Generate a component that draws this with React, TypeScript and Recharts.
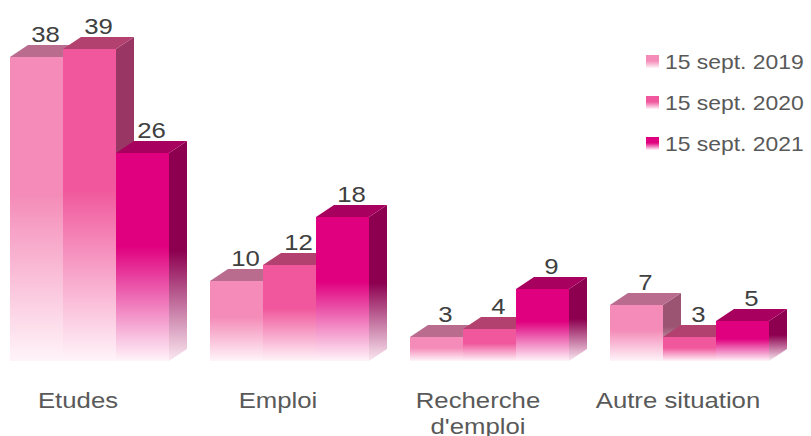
import { BarChart, Bar, XAxis, YAxis, LabelList } from "recharts"

const categoryLines = [["Etudes"], ["Emploi"], ["Recherche", "d'emploi"], ["Autre situation"]]
const categories = categoryLines.map((l) => l.join(" "))
const seriesNames = ["15 sept. 2019", "15 sept. 2020", "15 sept. 2021"]
const values2019 = [38, 10, 3, 7]
const values2020 = [39, 12, 4, 3]
const values2021 = [26, 18, 9, 5]

const PALETTE = [
  { front: "#F48BB8", top: "#B96C8E", side: "#9B5573" },
  { front: "#F0579C", top: "#B3416F", side: "#993663" },
  { front: "#E0007F", top: "#A8005E", side: "#8D0050" },
]

const DX = 18
const DY = 12
const SX = 1.17
const FONT = "'Liberation Sans', Arial, sans-serif"

const data = categories.map((name, i) => ({
  name,
  s0: values2019[i],
  s1: values2020[i],
  s2: values2021[i],
}))

function Box3D(props: any) {
  const { x, y, width, height, idx } = props
  if (height == null || width == null) return null
  const b = y + height
  const c = PALETTE[idx]
  return (
    <g>
      <rect x={x} y={y} width={width} height={height} fill={`url(#front-${idx})`} />
      <polygon
        points={`${x + width},${y} ${x + width + DX},${y - DY} ${x + width + DX},${b - DY} ${x + width},${b}`}
        fill={`url(#side-${idx})`}
      />
      <polygon
        points={`${x},${y} ${x + DX},${y - DY} ${x + width + DX},${y - DY} ${x + width},${y}`}
        fill={c.top}
      />
    </g>
  )
}

function ValueLabel(props: any) {
  const { x, y, width, value } = props
  return (
    <text
      transform={`translate(${x + width / 2 + DX / 2},${y - 15}) scale(${SX},1)`}
      textAnchor="middle"
      fontFamily={FONT}
      fontSize={22}
      fill="#404040"
    >
      {value}
    </text>
  )
}

function CatTick(props: any) {
  const { x, y, payload } = props
  const lines = categoryLines[payload.index] ?? [payload.value]
  return (
    <g>
      {lines.map((line, k) => (
        <text
          key={k}
          transform={`translate(${x - 12},${y + 47 + k * 26}) scale(${SX},1)`}
          textAnchor="middle"
          fontFamily={FONT}
          fontSize={22}
          fill="#595959"
        >
          {line}
        </text>
      ))}
    </g>
  )
}

export default function App() {
  return (
    <div style={{ position: "absolute", left: -10, top: 0, width: 821, height: 436, background: "#fff" }}>
      <BarChart
        width={821}
        height={436}
        data={data}
        margin={{ top: 41, right: 21, left: 0, bottom: 45 }}
        barCategoryGap={20}
        barGap={0}
      >
        <defs>
          {PALETTE.map((c, i) => (
            <linearGradient key={`f${i}`} id={`front-${i}`} x1="0" y1="0" x2="0" y2="1">
              <stop offset="0" stopColor={c.front} />
              <stop offset="0.45" stopColor={c.front} />
              <stop offset="1" stopColor="#fff4f9" />
            </linearGradient>
          ))}
          {PALETTE.map((c, i) => (
            <linearGradient key={`s${i}`} id={`side-${i}`} x1="0" y1="0" x2="0" y2="1">
              <stop offset="0" stopColor={c.side} />
              <stop offset="0.5" stopColor={c.side} />
              <stop offset="1" stopColor="#fbe8f1" />
            </linearGradient>
          ))}
        </defs>
        <XAxis
          dataKey="name"
          axisLine={false}
          tickLine={false}
          tickSize={0}
          tickMargin={0}
          height={30}
          interval={0}
          tick={<CatTick />}
        />
        <YAxis hide domain={[0, 40]} />
        {["s0", "s1", "s2"].map((key, i) => (
          <Bar
            key={key}
            dataKey={key}
            name={seriesNames[i]}
            isAnimationActive={false}
            shape={(p: any) => <Box3D {...p} idx={i} />}
          >
            <LabelList dataKey={key} content={<ValueLabel />} />
          </Bar>
        ))}
      </BarChart>
      <div style={{ position: "absolute", left: 656, top: 41, fontFamily: FONT, fontSize: 21, color: "#595959" }}>
        {seriesNames.map((n, i) => (
          <div key={n} style={{ height: 41, display: "flex", alignItems: "center", whiteSpace: "nowrap" }}>
            <span
              style={{
                width: 13,
                height: 13,
                marginRight: 6,
                background: `linear-gradient(${PALETTE[i].front} 45%, #fff4f9)`,
              }}
            />
            <span style={{ display: "inline-block", transform: "scaleX(1.09)", transformOrigin: "left center" }}>{n}</span>
          </div>
        ))}
      </div>
    </div>
  )
}
